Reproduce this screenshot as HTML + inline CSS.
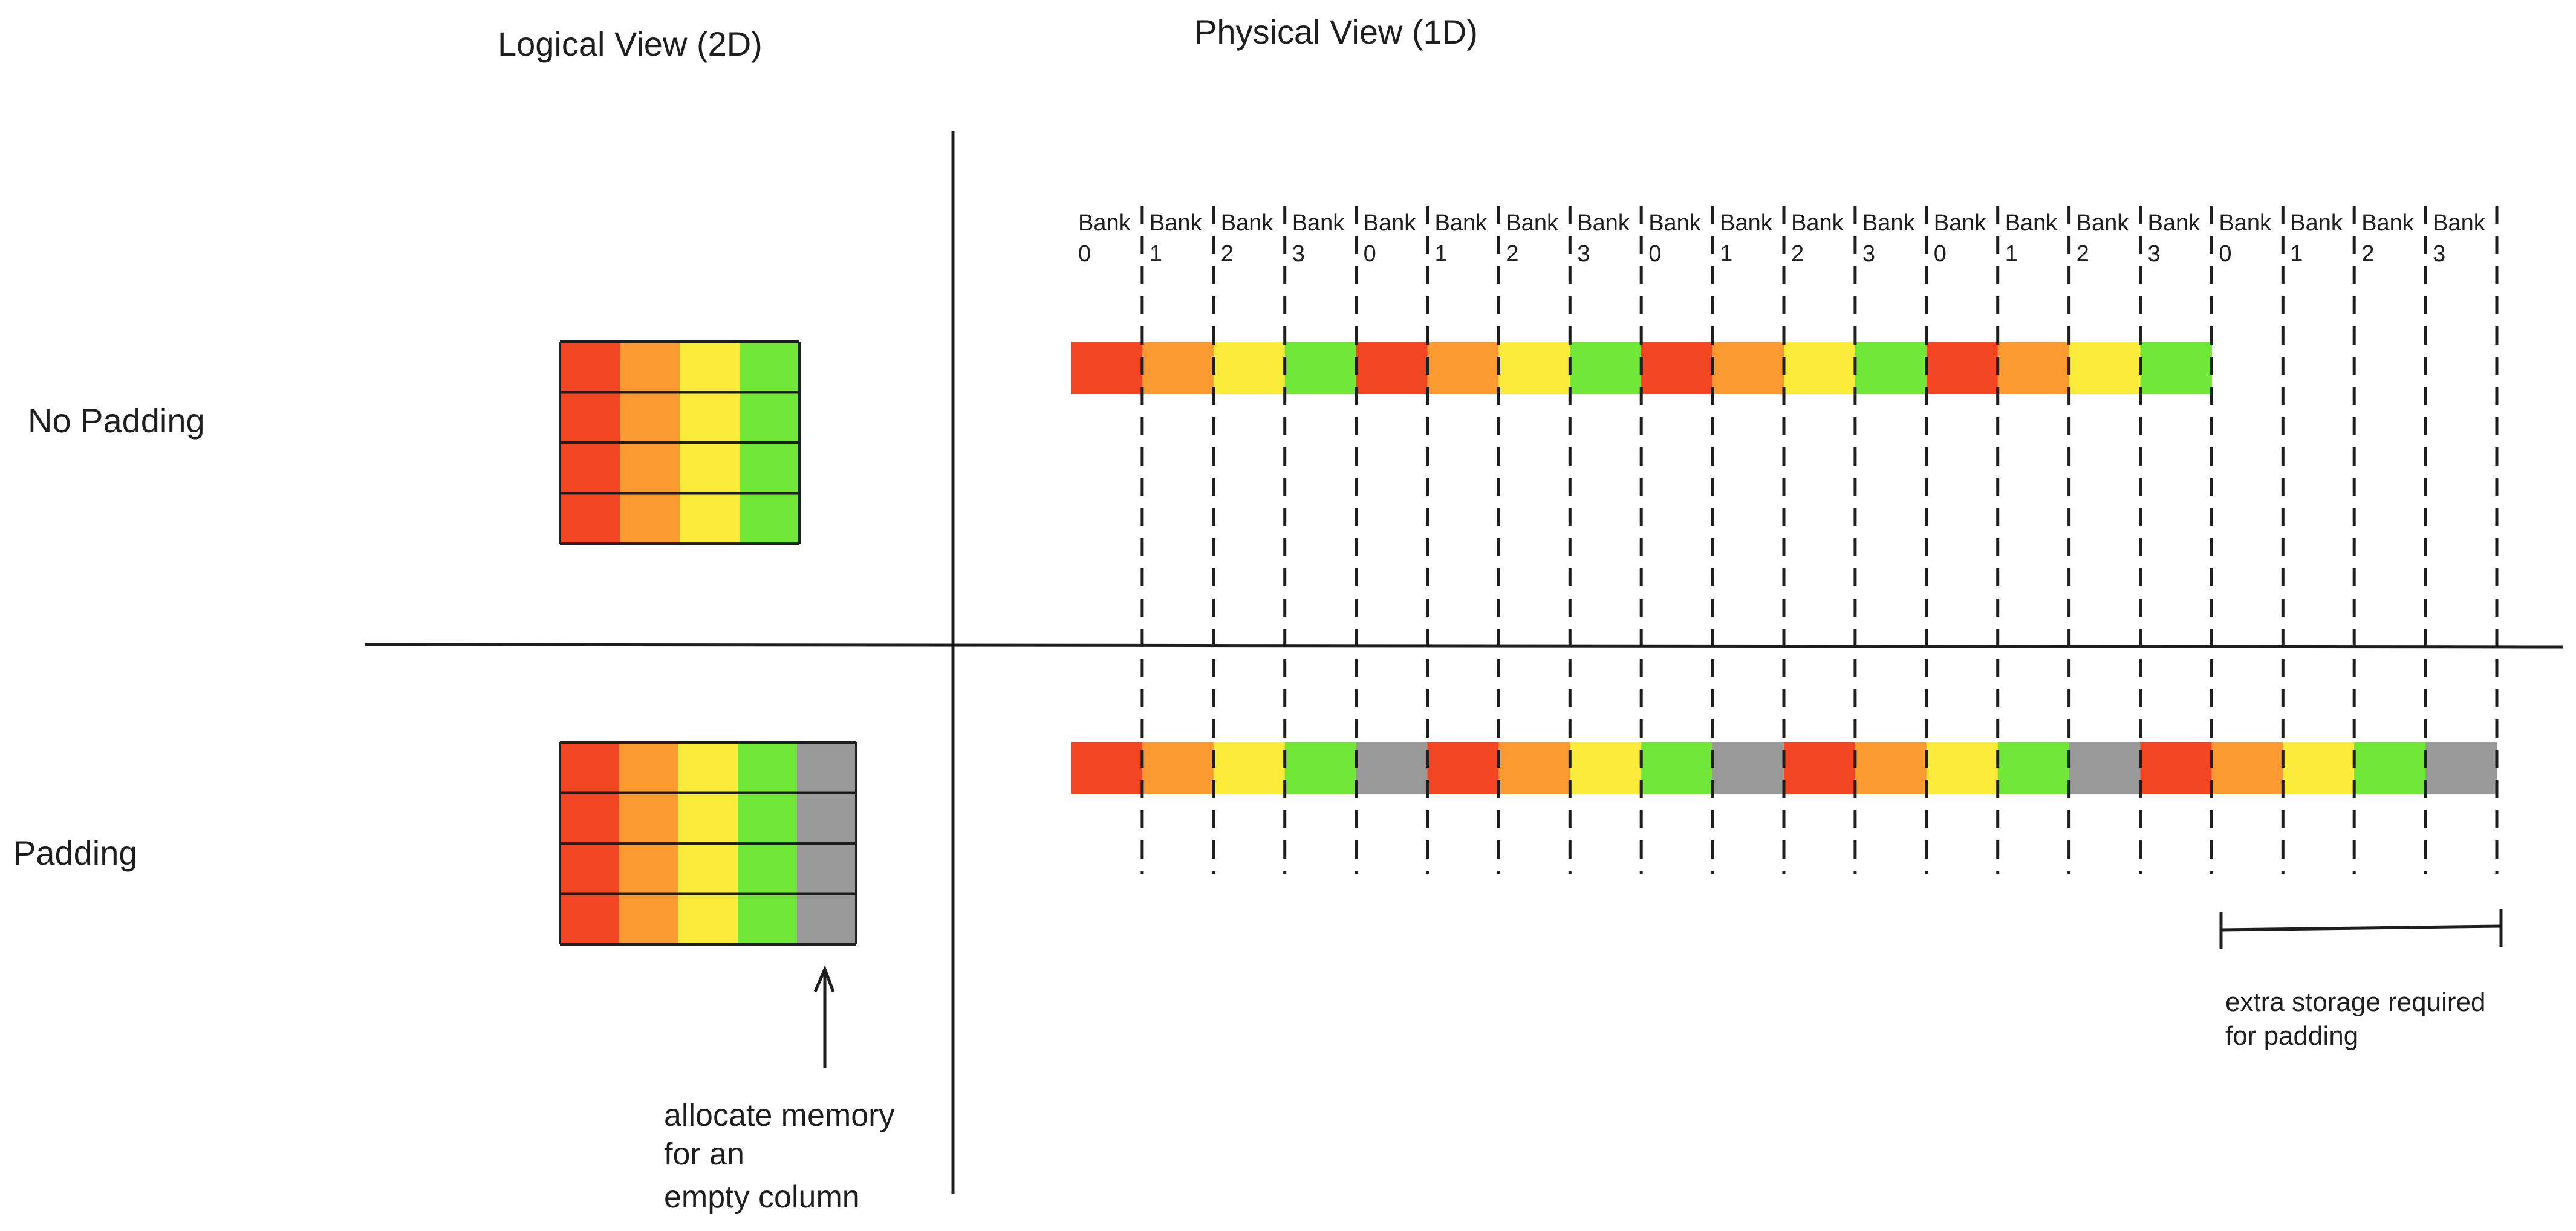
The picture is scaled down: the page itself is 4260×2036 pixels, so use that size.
<!DOCTYPE html>
<html><head><meta charset="utf-8"><style>
html,body{margin:0;padding:0;background:#fff;width:4260px;height:2036px;overflow:hidden}
svg text{font-family:"Liberation Sans",sans-serif;fill:#1e1e1e}
</style></head><body>
<svg id="s" width="4260" height="2036" viewBox="0 0 4260 2036" xmlns="http://www.w3.org/2000/svg">
<text x="823" y="92" font-size="56">Logical View (2D)</text>
<text x="1975" y="72" font-size="56">Physical View (1D)</text>
<line x1="1576" y1="217" x2="1576" y2="1975" stroke="#1e1e1e" stroke-width="5"/>
<line x1="603" y1="1066" x2="4239" y2="1070" stroke="#1e1e1e" stroke-width="5"/>
<text x="46" y="715" font-size="56">No Padding</text>
<text x="22" y="1430" font-size="56">Padding</text>
<g id="cells"></g>
<g id="dashes"></g>
<line x1="1364" y1="1766" x2="1364" y2="1608" stroke="#1e1e1e" stroke-width="5"/>
<polyline points="1348,1640 1364,1603 1378,1640" fill="none" stroke="#1e1e1e" stroke-width="5"/>
<text x="1098" y="1862" font-size="52">allocate memory</text>
<text x="1098" y="1926" font-size="52">for an</text>
<text x="1098" y="1997" font-size="52">empty column</text>
<line x1="3673" y1="1538" x2="4136" y2="1532" stroke="#1e1e1e" stroke-width="5"/>
<line x1="3673" y1="1508" x2="3673" y2="1570" stroke="#1e1e1e" stroke-width="5"/>
<line x1="4136" y1="1504" x2="4136" y2="1566" stroke="#1e1e1e" stroke-width="5"/>
<text x="3680" y="1672" font-size="44">extra storage required</text>
<text x="3680" y="1728" font-size="44">for padding</text>
</svg>
<script>
const noPadRow = ["red","orange","yellow","green"];
const padRow = ["red","orange","yellow","green","gray"];
const gridRows = 4;
const bankLabels = ["0","1","2","3","0","1","2","3","0","1","2","3","0","1","2","3","0","1","2","3"];
const COL = {red:"#f24522",orange:"#fa9a30",yellow:"#fbec3c",green:"#71e837",gray:"#999999"};
const NS = "http://www.w3.org/2000/svg";
const cells = document.getElementById('cells');
const dashes = document.getElementById('dashes');
function mk(tag, attrs, parent){const e=document.createElementNS(NS,tag);for(const k in attrs)e.setAttribute(k,attrs[k]);parent.appendChild(e);return e;}

function grid(x0,y0,cw,rh,row,name){
  for(let r=0;r<gridRows;r++)for(let c=0;c<row.length;c++){
    const e=mk('rect',{x:x0+c*cw,y:y0+r*rh,width:cw,height:rh,fill:COL[row[c]]},cells);
    
    
  }
  for(let r=0;r<=gridRows;r++){
    const e=mk('line',{x1:x0,x2:x0+cw*row.length,y1:y0+r*rh,y2:y0+r*rh,stroke:"#1e1e1e","stroke-width":4},cells);
    
    
  }
  [x0,x0+cw*row.length].forEach(x=>{
    const e=mk('line',{x1:x,x2:x,y1:y0,y2:y0+rh*gridRows,stroke:"#1e1e1e","stroke-width":4},cells);
    
    
  });
}
grid(926,565,99,83.5,noPadRow,'no-padding-grid');
grid(926,1228,98,83.5,padRow,'padding-grid');

const SX=1771, SW=117.9;
function strip(y0,h,n,row,name){
  for(let i=0;i<n;i++){
    const e=mk('rect',{x:SX+i*SW,y:y0,width:SW+0.5,height:h,fill:COL[row[i%row.length]]},cells);
    
    
  }
}
strip(565,87,gridRows*noPadRow.length,noPadRow,'no-padding-strip');
strip(1228,85,gridRows*padRow.length,padRow,'padding-strip');

bankLabels.forEach((lab,i)=>{
  const x=SX+i*SW;
  const t=mk('text',{x:x+12,y:381,'font-size':38},dashes);t.textContent='Bank';
  
  
  const d=mk('text',{x:x+12,y:432,'font-size':38},dashes);d.textContent=lab;
  
  
  const l=mk('line',{x1:x+SW,x2:x+SW,y1:340,y2:1445,stroke:"#1e1e1e","stroke-width":5,"stroke-dasharray":"30 20"},dashes);
  
  
});
</script>
</body></html>
